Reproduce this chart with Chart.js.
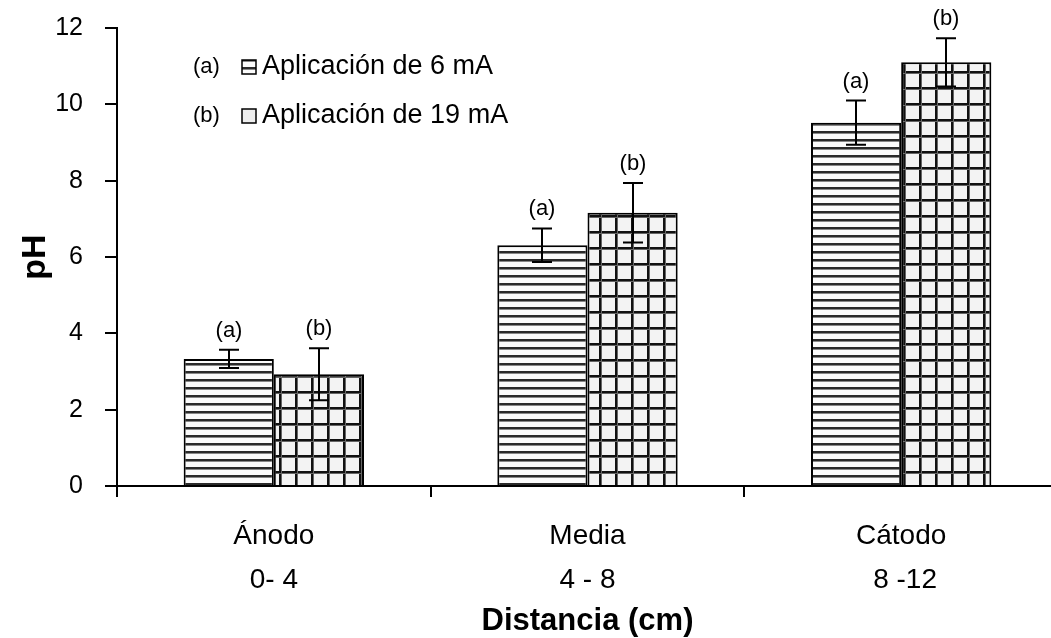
<!DOCTYPE html>
<html>
<head>
<meta charset="utf-8">
<script src="https://cdn.jsdelivr.net/npm/chart.js@4"></script>
<style>
  html, body { margin: 0; padding: 0; background: #fff; overflow: hidden; }
</style>
</head>
<body>
<canvas id="myChart" width="1062" height="638"></canvas>
<script>
// data
const categories = [["Ánodo", "0- 4"], ["Media", "4 - 8"], ["Cátodo", " 8 -12"]];
const seriesNames = ["Aplicación de 6 mA", "Aplicación de 19 mA"];
const seriesTags = ["(a)", "(b)"];
const ph6mA = [3.33, 6.31, 9.52];
const ph19mA = [2.93, 7.16, 11.1];
const err6mA = [0.24, 0.44, 0.58];
const err19mA = [0.68, 0.78, 0.63];
const yTicks = [0, 2, 4, 6, 8, 10, 12];

const fontFamily = "'Liberation Sans', Arial, sans-serif";
Chart.defaults.font.family = fontFamily;
Chart.defaults.color = "#000";

// fill patterns
function linesPattern() {
  const c = document.createElement("canvas");
  c.width = 8;
  c.height = 8;
  const g = c.getContext("2d");
  g.fillStyle = "#fbfbfb";
  g.fillRect(0, 0, 8, 8);
  g.fillStyle = "#2a2a2a";
  g.fillRect(0, 3, 8, 2);
  g.fillStyle = "#888";
  g.fillRect(0, 5, 8, 1);
  return g.createPattern(c, "repeat");
}

function gridPattern() {
  const c = document.createElement("canvas");
  c.width = 16;
  c.height = 16;
  const g = c.getContext("2d");
  g.fillStyle = "#f3f3f3";
  g.fillRect(0, 0, 16, 16);
  g.fillStyle = "#111";
  g.fillRect(7, 0, 2, 16);
  g.fillRect(0, 7, 16, 2);
  g.fillStyle = "#666";
  g.fillRect(9, 0, 1, 16);
  g.fillRect(0, 9, 16, 1);
  return g.createPattern(c, "repeat");
}

const patterns = [linesPattern(), gridPattern()];
const errors = [err6mA, err19mA];

// error bars + (a)/(b) tags above them
const errorBars = {
  id: "errorBars",
  afterDatasetsDraw(chart) {
    const ctx = chart.ctx;
    const y = chart.scales.y;
    ctx.save();
    ctx.strokeStyle = "#000";
    ctx.lineWidth = 2;
    ctx.fillStyle = "#000";
    ctx.font = "22px " + fontFamily;
    ctx.textAlign = "center";
    ctx.textBaseline = "middle";
    chart.data.datasets.forEach((ds, i) => {
      const meta = chart.getDatasetMeta(i);
      meta.data.forEach((bar, j) => {
        const v = ds.data[j];
        const e = errors[i][j];
        const top = y.getPixelForValue(v + e);
        const bot = y.getPixelForValue(v - e);
        const x = Math.round(bar.x);
        ctx.beginPath();
        ctx.moveTo(x, top);
        ctx.lineTo(x, bot);
        ctx.moveTo(x - 10, top);
        ctx.lineTo(x + 10, top);
        ctx.moveTo(x - 10, bot);
        ctx.lineTo(x + 10, bot);
        ctx.stroke();
        ctx.fillText(seriesTags[i], x, top - 19);
      });
    });
    ctx.restore();
  },
};

// legend inside plot area, top left
const insideLegend = {
  id: "insideLegend",
  afterDraw(chart) {
    const ctx = chart.ctx;
    const a = chart.chartArea;
    ctx.save();
    ctx.textBaseline = "middle";
    seriesNames.forEach((name, i) => {
      const yy = a.top + 39 + i * 49;
      const x0 = a.left + 76;
      ctx.font = "22px " + fontFamily;
      ctx.fillStyle = "#000";
      ctx.fillText(seriesTags[i], x0, yy);
      ctx.fillStyle = i === 0 ? patterns[0] : "#eee";
      ctx.fillRect(x0 + 49, yy - 7, 14, 14);
      ctx.strokeStyle = "#000";
      ctx.lineWidth = 1.5;
      ctx.strokeRect(x0 + 49, yy - 7, 14, 14);
      ctx.font = "27px " + fontFamily;
      ctx.fillStyle = "#000";
      ctx.fillText(name, x0 + 69, yy);
    });
    ctx.restore();
  },
};

new Chart("myChart", {
  type: "bar",
  data: {
    labels: categories,
    datasets: [
      {
        label: seriesNames[0],
        data: ph6mA,
        backgroundColor: patterns[0],
        borderColor: "#000",
        borderWidth: 2,
        categoryPercentage: 0.575,
        barPercentage: 1,
      },
      {
        label: seriesNames[1],
        data: ph19mA,
        backgroundColor: patterns[1],
        borderColor: "#000",
        borderWidth: 2,
        categoryPercentage: 0.575,
        barPercentage: 1,
      },
    ],
  },
  options: {
    responsive: false,
    animation: false,
    layout: { padding: { top: 28, right: 4, bottom: 0, left: 0 } },
    plugins: {
      legend: { display: false },
      tooltip: { enabled: false },
    },
    scales: {
      x: {
        grid: {
          offset: true,
          drawOnChartArea: false,
          drawTicks: true,
          tickLength: 11,
          color: "#000",
          lineWidth: 2,
        },
        border: { display: true, color: "#000", width: 2 },
        ticks: {
          color: "#000",
          padding: 17,
          font: { size: 28, lineHeight: 1.57 },
          maxRotation: 0,
        },
        title: {
          display: true,
          text: "Distancia (cm)",
          color: "#000",
          font: { size: 31, weight: "bold" },
          padding: { top: 0, bottom: -2 },
        },
        afterFit(scale) {
          scale.height = 152;
        },
      },
      y: {
        min: 0,
        max: 12,
        grid: {
          drawOnChartArea: false,
          drawTicks: true,
          tickLength: 12,
          color: "#000",
          lineWidth: 2,
        },
        border: { display: true, color: "#000", width: 2 },
        ticks: {
          color: "#000",
          padding: 22,
          font: { size: 25 },
        },
        afterBuildTicks(scale) {
          scale.ticks = yTicks.map((v) => ({ value: v }));
        },
        title: {
          display: true,
          text: "pH",
          color: "#000",
          font: { size: 34, weight: "bold" },
          padding: { top: 15, bottom: 0 },
        },
        afterFit(scale) {
          scale.width = 117;
          scale.paddingTop = 0;
          scale.paddingBottom = 0;
        },
      },
    },
  },
  plugins: [errorBars, insideLegend],
});
</script>
</body>
</html>
